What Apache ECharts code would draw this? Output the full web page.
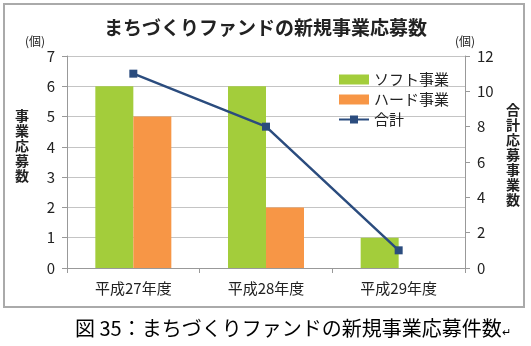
<!DOCTYPE html>
<html><head><meta charset="utf-8">
<script src="https://cdn.jsdelivr.net/npm/echarts@6/dist/echarts.min.js"></script>
<style>html,body{margin:0;padding:0;background:#fff;}#c{width:531px;height:346px;}</style>
</head><body><div id="c"></div>
<script>
const categories = ['平成27年度','平成28年度','平成29年度'];
const softValues = [6, 6, 1];
const hardValues = [5, 2, 0];
const totalValues = [11, 8, 1];
const seriesNames = ['ソフト事業','ハード事業','合計'];

const font = '"Noto Sans CJK JP", "Noto Sans", sans-serif';
const chart = echarts.init(document.getElementById('c'));
chart.setOption({
  animation: false,
  textStyle: {fontFamily: font},
  title: {text: 'まちづくりファンドの新規事業応募数', left: 'center', top: 13,
    textStyle: {fontSize: 19, fontWeight: 'bold', color: '#222', fontFamily: font}},
  legend: {
    left: 333, top: 67, orient: 'vertical', itemGap: 5, itemWidth: 30, itemHeight: 10,
    textStyle: {fontSize: 15, color: '#222', fontFamily: font},
    data: [{name: seriesNames[0], icon: 'rect'}, {name: seriesNames[1], icon: 'rect'}, {name: seriesNames[2]}]
  },
  grid: {left: 67, right: 66, top: 56, bottom: 78, containLabel: false},
  xAxis: {type: 'category', data: categories,
    axisLine: {lineStyle: {color: '#999'}}, axisTick: {show: true, lineStyle: {color: '#999'}},
    axisLabel: {fontSize: 15, color: '#222', margin: 13}},
  yAxis: [
    {type: 'value', min: 0, max: 7, interval: 1, name: '(個)', nameGap: 9,
     nameTextStyle: {fontSize: 12, color: '#222', align: 'right', padding: [0, 22, 0, 0]},
     axisLine: {show: true, lineStyle: {color: '#999'}}, axisTick: {show: true, lineStyle: {color: '#999'}},
     axisLabel: {fontSize: 15, color: '#222', margin: 12},
     splitLine: {lineStyle: {color: '#c4c4c4'}}},
    {type: 'value', min: 0, max: 12, interval: 2, name: '(個)', nameGap: 9,
     nameTextStyle: {fontSize: 12, color: '#222', align: 'center', padding: [0, 0, 0, 0]},
     axisLine: {show: true, lineStyle: {color: '#999'}}, axisTick: {show: true, lineStyle: {color: '#999'}},
     axisLabel: {fontSize: 15, color: '#222', margin: 12},
     splitLine: {show: false}}
  ],
  graphic: [
    {type: 'rect', shape: {x: 4, y: 4, width: 520, height: 303}, style: {fill: 'none', stroke: '#aaa', lineWidth: 2}, z: -1},
    {type: 'text', left: 15, top: 108, style: {text: '事\n業\n応\n募\n数', font: 'bold 14px ' + font, fill: '#222', lineHeight: 15}},
    {type: 'text', left: 506, top: 102, style: {text: '合\n計\n応\n募\n事\n業\n数', font: 'bold 14px ' + font, fill: '#222', lineHeight: 15}},
    {type: 'text', left: 75, top: 318, style: {text: '{a|図 35：まちづくりファンドの新規事業応募件数}{b|↵}',
      rich: {a: {fontSize: 20, fontFamily: font, fill: '#000', color: '#000'}, b: {fontSize: 11, fontFamily: font, color: '#666', padding: [8, 0, 0, 0]}}}}
  ],
  series: [
    {name: seriesNames[0], type: 'bar', data: softValues, barWidth: 38, barGap: '0%', itemStyle: {color: '#A3CD3B'}},
    {name: seriesNames[1], type: 'bar', data: hardValues, barWidth: 38, itemStyle: {color: '#F79646'}},
    {name: seriesNames[2], type: 'line', yAxisIndex: 1, data: totalValues, symbol: 'rect', symbolSize: 8,
     lineStyle: {color: '#2B4C7E', width: 2.5}, itemStyle: {color: '#2B4C7E'}}
  ]
});
</script></body></html>
